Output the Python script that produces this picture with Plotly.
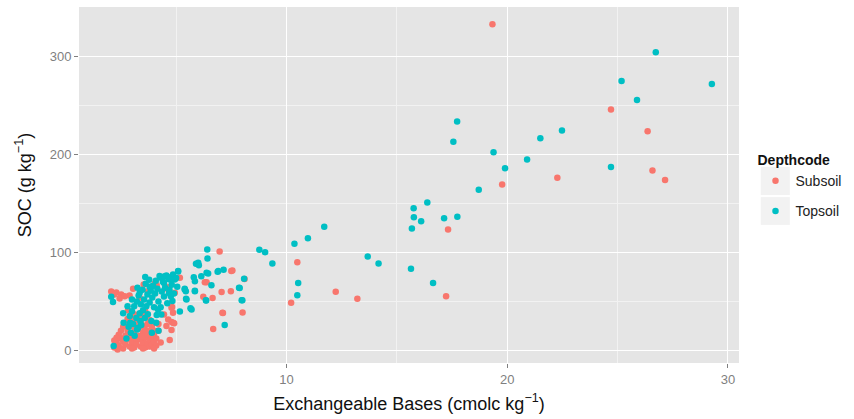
import plotly.graph_objects as go

# Subsoil (red) points: exchangeable bases (x), SOC (y)
sub_x = [19.33, 24.7, 26.36, 26.58, 27.15, 22.27, 19.77, 17.32, 17.23, 13.21, 12.23, 10.21, 10.49,
         8.01, 8.1, 7.55, 6.97, 7.5, 7.48, 7.06, 6.38, 6.3, 6.23, 6.65, 6.68, 7.1, 7.12,
         5.17, 4.94, 4.64, 4.58, 4.12, 4.03, 3.53, 3.05, 3.73, 2.89, 3.35,
         2.06, 2.29, 2.51, 2.44, 2.67, 2.2,
         2.82, 3.12, 3.58, 4.79, 4.86, 4.64, 4.86, 4.45, 4.56, 4.79, 4.06, 4.71, 4.82, 4.79, 4.91,
         2.2, 2.3, 2.4, 2.5, 2.6, 2.6, 2.7, 2.7, 2.8, 2.8, 2.9, 2.9, 3.0, 3.0, 3.0, 3.1, 3.1,
         3.2, 3.2, 3.2, 3.3, 3.3, 3.4, 3.4, 3.4, 3.5, 3.5, 3.5, 3.6, 3.6, 3.6, 3.7, 3.7, 3.7,
         3.8, 3.8, 3.8, 3.9, 3.9, 3.9, 4.0, 4.0, 4.1, 4.1, 2.5, 2.4, 2.3, 2.6, 2.9, 3.1, 3.3,
         3.5, 3.6, 3.8, 2.8, 2.7, 3.0, 3.5, 4.0, 2.2, 2.35, 3.45, 3.15, 3.85, 4.2, 4.3, 4.2]
sub_y = [333.0, 246.0, 223.8, 183.7, 174.0, 176.2, 169.4, 123.5, 55.4, 52.8, 59.9, 48.6, 90.1,
         38.8, 73.0, 81.6, 101.0, 81.0, 60.5, 59.5, 69.7, 69.7, 54.8, 53.4, 21.7, 38.5, 38.1,
         74.2, 58.8, 62.2, 64.6, 66.6, 68.4, 67.3, 63.0, 60.5, 56.0, 53.8,
         60.0, 59.0, 57.0, 53.0, 55.4, 57.0,
         41.1, 36.7, 40.1, 43.6, 38.4, 31.6, 28.3, 36.7, 24.8, 20.7, 19.7, 10.5, 44.2, 28.9, 27.6,
         3, 8, 5, 12, 2, 9, 15, 6, 20, 11, 4, 17, 8, 25, 13, 3, 19,
         10, 28, 6, 15, 22, 4, 11, 30, 8, 18, 25, 3, 13, 21, 7, 16, 27,
         10, 4, 20, 13, 24, 6, 9, 17, 5, 12, 20, 16, 13, 24, 29, 33, 36,
         34, 40, 31, 32, 26, 2, 2, 2, 10, 1, 14, 24, 15, 20, 8, 27]

# Topsoil (teal) points
top_x = [26.73, 25.18, 29.27, 25.88, 17.73, 22.48, 17.56, 21.5, 19.38, 20.9, 19.9, 24.7, 18.71,
         16.38, 15.76, 15.77, 16.1, 17.14, 17.74, 15.68, 11.71, 10.97, 10.36, 8.77, 9.03, 9.36,
         13.68, 14.17, 15.64, 8.08, 7.88, 8.0, 10.53, 10.49, 16.64,
         6.41, 6.42, 5.9, 6.03, 5.09, 7.15, 6.88, 6.45, 6.14, 5.8, 5.85, 4.73, 4.94, 6.6, 5.39,
         5.44, 5.85, 7.85, 6.36, 5.45, 7.97, 4.68, 4.76, 4.83, 5.65, 5.17, 7.2,
         4.32, 4.56, 3.9, 4.45, 4.73, 4.48, 4.86, 5.09, 6.0, 5.39, 5.85, 5.47, 5.7, 6.38, 6.91,
         6.35, 4.18, 4.33, 4.1, 2.92, 3.38, 3.23, 2.06, 2.14, 2.17, 2.62, 3.0, 3.35, 3.8,
         2.75, 2.85, 2.9, 2.95, 3.0, 3.05, 3.1, 3.12, 3.2, 3.22, 3.28, 3.3, 3.35, 3.4, 3.42,
         3.48, 3.5, 3.55, 3.58, 3.62, 3.65, 3.7, 3.72, 3.78, 3.8, 3.85, 3.88, 3.92, 3.96, 4.0,
         4.05, 4.08, 4.12, 4.15, 4.2, 4.25, 4.3, 4.35, 4.4, 4.45, 4.5, 4.6, 4.65, 4.7, 4.8,
         4.9, 5.0, 5.05, 3.25, 3.6, 2.6, 2.8, 4.2, 3.9]
top_y = [304.4, 275.0, 272.0, 255.8, 233.7, 224.5, 213.0, 216.6, 202.3, 195.0, 186.0, 187.4, 164.0,
         151.0, 145.2, 136.0, 132.0, 135.0, 136.4, 124.5, 126.2, 114.6, 108.8, 102.7, 100.3, 88.8,
         95.9, 88.8, 83.3, 73.1, 63.6, 51.3, 68.7, 56.4, 68.7,
         103.0, 93.9, 88.5, 87.0, 80.6, 82.3, 80.3, 78.6, 75.8, 74.8, 70.7, 74.8, 72.4, 66.6, 63.0,
         60.5, 60.9, 64.0, 51.0, 52.8, 51.3, 58.5, 55.4, 50.3, 42.9, 39.8, 25.8,
         74.2, 76.5, 65.3, 68.7, 72.4, 75.8, 77.6, 81.0, 89.5, 62.2, 60.5, 52.0, 41.8, 79.3, 81.0,
         51.3, 41.8, 36.7, 28.2, 28.2, 29.9, 21.4, 54.8, 49.3, 4.4, 28.2, 52.0, 58.8, 65.0,
         12, 24, 35, 18, 40, 27, 45, 15, 33, 50, 23, 56, 38, 47, 26,
         62, 41, 52, 33, 68, 45, 57, 37, 72, 49, 61, 30, 54, 66, 44,
         58, 71, 36, 63, 50, 76, 44, 60, 70, 55, 64, 48, 73, 62, 67,
         58, 74, 65, 64, 75, 38, 45, 20, 18]

series_names = ["Subsoil", "Topsoil"]
series_colors = ["#F8766D", "#00BFC4"]

x_ticks = [10, 20, 30]
y_ticks = [0, 100, 200, 300]

fig = go.Figure()
for name, xs, ys, col in [(series_names[0], sub_x, sub_y, series_colors[0]),
                          (series_names[1], top_x, top_y, series_colors[1])]:
    fig.add_trace(go.Scatter(x=xs, y=ys, mode="markers", name=name, legendgroup=name,
                             marker=dict(color=col, size=6.5, line=dict(width=0))))

# legend key backgrounds (paper coordinates)
for y0, y1 in [(0.472, 0.551), (0.388, 0.466)]:
    fig.add_shape(type="rect", xref="paper", yref="paper", x0=1.033, x1=1.077, y0=y0, y1=y1,
                  fillcolor="#F2F2F2", line=dict(width=0), layer="below")

font_family = "Liberation Sans, Arial, sans-serif"
fig.update_layout(
    width=854, height=419,
    margin=dict(l=79, r=112, t=7, b=56),
    paper_bgcolor="white",
    plot_bgcolor="#E5E5E5",
    font=dict(family=font_family, color="#222222"),
    legend=dict(
        title=dict(text="<b>Depthcode</b>", font=dict(size=14, color="#111111")),
        font=dict(size=14, color="#222222"),
        x=1.025, xanchor="left", y=0.607, yanchor="top",
        bgcolor="rgba(0,0,0,0)", tracegroupgap=9,
    ),
    xaxis=dict(
        range=[0.6, 30.5], tickvals=x_ticks, showgrid=True, gridcolor="white", gridwidth=1.3,
        zeroline=False, ticks="outside", ticklen=4, tickcolor="#7F7F7F",
        tickfont=dict(size=13, color="#7F7F7F"),
        minor=dict(tickvals=[5, 15, 25], showgrid=True, gridcolor="#F2F2F2", gridwidth=0.8, ticks=""),
        title=dict(text="Exchangeable Bases (cmolc kg<sup>−1</sup>)", font=dict(size=18, color="#111111"),
                   standoff=11),
    ),
    yaxis=dict(
        range=[-12.9, 350.7], tickvals=y_ticks, showgrid=True, gridcolor="white", gridwidth=1.3,
        zeroline=False, ticks="outside", ticklen=4, tickcolor="#7F7F7F",
        tickfont=dict(size=13, color="#7F7F7F"),
        minor=dict(tickvals=[50, 150, 250], showgrid=True, gridcolor="#F2F2F2", gridwidth=0.8, ticks=""),
        title=dict(text="SOC (g kg<sup>−1</sup>)", font=dict(size=18, color="#111111"), standoff=13),
    ),
)

fig.write_html("out.html")
